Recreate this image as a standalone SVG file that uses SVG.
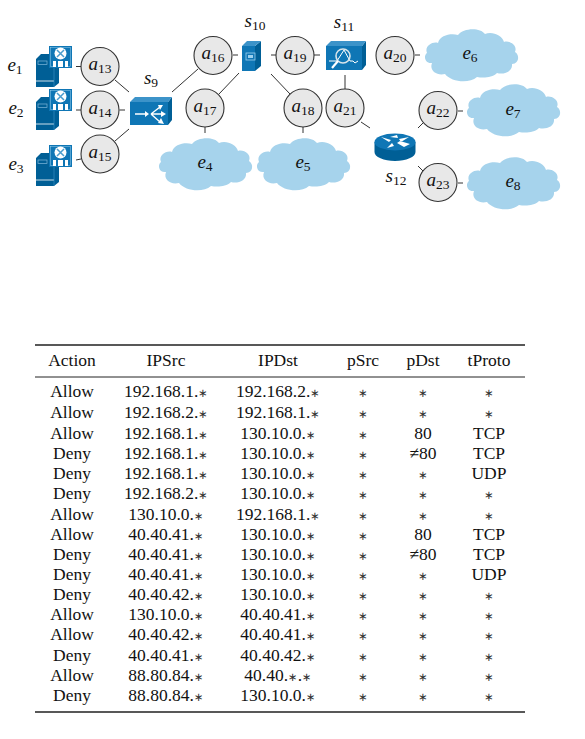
<svg xmlns="http://www.w3.org/2000/svg" width="585" height="739" viewBox="0 0 585 739">
<style>
text{font-family:"Liberation Serif","Times New Roman",serif;fill:#111}
.l{font-size:19px;font-style:italic;text-anchor:middle}
.sub{font-size:13.500px;font-style:normal}
.b{stroke:#333;stroke-width:1;fill:none}
.c{fill:#e8e8e8;stroke:#333;stroke-width:1.1}
.t{font-size:17.5px;text-anchor:middle}
.s{font-size:11.500px;font-family:"DejaVu Sans",sans-serif;fill:#333}
.r{stroke:#222;fill:none}
.cl{fill:#a6d3ec}
.f{fill:#0f76b5}.d{fill:#005f96}.w{fill:#fff}.ws{stroke:#fff;fill:none}
</style>
<defs>
<g id="cloud"><path class="cl" d="M-44,-2C-47,-9-38,-14-33,-12C-31,-20-20,-22-13,-20C-8,-27 9,-28 14,-21C21,-24 31,-20 33,-13C38,-15 47,-10 44,-3C49,0 48,9 41,9C42,17 32,20 26,18C21,23 12,23 6,22C-2,29-20,27-26,19C-34,21-42,16-39,8C-46,9-48,1-44,-2Z"/></g>
<g id="server">
<path class="d" d="M0,13L5,8H15V22H23V37L18,41H0Z"/>
<path class="ws" d="M0,35H18" stroke-width=".8"/>
<path d="M18,22V41" stroke="#3c93c9" stroke-width=".6"/>
<rect x="2" y="15" width="9" height="3.500" fill="none" stroke="#7fb8da" stroke-width=".7"/>
<rect class="f" x="13" y="0" width="23" height="22"/>
<rect x="14.500" y="1.500" width="20" height="19" fill="none" stroke="#9cd0ee" stroke-width=".5"/>
<circle class="w" cx="24.500" cy="7.500" r="6"/>
<path d="M21,4L28,11M28,4L21,11" stroke="#4a9ccd" stroke-width="1.500"/>
<rect class="w" x="17" y="15" width="15" height="6"/>
<rect class="f" x="20" y="15" width="2" height="6"/>
<rect class="f" x="27" y="15" width="2" height="6"/>
</g>
</defs>
<g id="connectors" class="b">
<path d="M76,66.500H81M76,110H81M119.500,110H125M76,160L81,159M115,80L129,92M115,141L129,129M172,92L198,69M219,94L239,73M233,55H238M205,127V133M271,55H276M314,55H320M376,55H378M415,55H420M271,74L290,94M303,127V133M345,75V91M361,122L370,128M423,123L418,128M458,111H463M418,166L423,171M458,183H463"/>
</g>
<g id="e1"><use href="#server" x="36" y="46"/><text class="l" x="15" y="71">e<tspan class="sub" dy="3">1</tspan></text></g>
<g id="e2"><use href="#server" x="36" y="89"/><text class="l" x="16" y="114">e<tspan class="sub" dy="3">2</tspan></text></g>
<g id="e3"><use href="#server" x="36" y="145"/><text class="l" x="16" y="170">e<tspan class="sub" dy="3">3</tspan></text></g>
<g id="e4"><use href="#cloud" x="205" y="164"/><text class="l" x="205" y="168">e<tspan class="sub" dy="3">4</tspan></text></g>
<g id="e5"><use href="#cloud" x="303" y="164"/><text class="l" x="303" y="168">e<tspan class="sub" dy="3">5</tspan></text></g>
<g id="e6"><use href="#cloud" x="471" y="55"/><text class="l" x="470" y="59">e<tspan class="sub" dy="3">6</tspan></text></g>
<g id="e7"><use href="#cloud" x="513" y="110"/><text class="l" x="513" y="115">e<tspan class="sub" dy="3">7</tspan></text></g>
<g id="e8"><use href="#cloud" x="513" y="183"/><text class="l" x="513" y="187">e<tspan class="sub" dy="3">8</tspan></text></g>
<g id="s9">
<path class="d" d="M168,125V102L172,97V120Z"/>
<path fill="#3c93c9" d="M130,102L135,97H172L168,102Z"/>
<rect class="f" x="130" y="102" width="38" height="23"/>
<path class="ws" d="M135,114H146M151,114H164M151,114L160,107M151,114L160,122" stroke-width="1.400"/>
<path class="w" d="M145,111L149,114L145,117ZM158,105L163,105L160,110ZM158,123L164,124L161,118ZM161,111L166,114L161,117Z"/>
<text class="l" x="151" y="84">s<tspan class="sub" dy="3">9</tspan></text>
</g>
<g id="s10">
<path class="d" d="M255,71V46L261,41V66Z"/>
<path fill="#3c93c9" d="M242,46L247,41H261L255,46Z"/>
<rect class="f" x="242" y="46" width="13" height="25"/>
<rect x="246" y="53" width="9" height="7" fill="none" stroke="#9cd0ee" stroke-width=".8"/>
<rect x="248" y="55" width="5" height="3" fill="#9cd0ee"/>
<text class="l" x="255" y="27">s<tspan class="sub" dy="3">10</tspan></text>
</g>
<g id="s11">
<path class="d" d="M362,70V46L366,41V65Z"/>
<path fill="#3c93c9" d="M326,46L331,41H366L362,46Z"/>
<rect class="f" x="326" y="46" width="36" height="24"/>
<path class="ws" d="M329,61H337L344,50L350,61H353L355,63L358,61" stroke-width="1"/>
<circle cx="343" cy="56" r="7" fill="none" stroke="#d8e4ea" stroke-width="1.600"/>
<path d="M338,61L332,68" stroke="#fff" stroke-width="2.200"/>
<text class="l" x="344" y="28">s<tspan class="sub" dy="3">11</tspan></text>
</g>
<g id="s12">
<path class="d" d="M374.500,142V152A20.500,9 0 0 0 415.500,152V142Z"/>
<ellipse class="f" cx="395" cy="142" rx="20.500" ry="8.500"/>
<path class="w" d="M381,137L391,140L389,142ZM409,137L399,139L401,142ZM387,148L392,143L394,146ZM404,147L397,143L400,141L410,144ZM390,137L397,135L398,138Z"/>
<text class="l" x="396" y="182">s<tspan class="sub" dy="3">12</tspan></text>
</g>
<g id="a13"><circle class="c" cx="100" cy="66.500" r="19"/><text class="l" x="100" y="70">a<tspan class="sub" dy="3">13</tspan></text></g>
<g id="a14"><circle class="c" cx="100" cy="110" r="19"/><text class="l" x="100" y="114">a<tspan class="sub" dy="3">14</tspan></text></g>
<g id="a15"><circle class="c" cx="100" cy="154" r="19"/><text class="l" x="100" y="158">a<tspan class="sub" dy="3">15</tspan></text></g>
<g id="a16"><circle class="c" cx="213" cy="55.500" r="19"/><text class="l" x="213" y="59">a<tspan class="sub" dy="3">16</tspan></text></g>
<g id="a17"><circle class="c" cx="205" cy="108" r="19"/><text class="l" x="205" y="112">a<tspan class="sub" dy="3">17</tspan></text></g>
<g id="a18"><circle class="c" cx="303" cy="108" r="19"/><text class="l" x="303" y="112">a<tspan class="sub" dy="3">18</tspan></text></g>
<g id="a19"><circle class="c" cx="295" cy="55.500" r="19"/><text class="l" x="295" y="59">a<tspan class="sub" dy="3">19</tspan></text></g>
<g id="a20"><circle class="c" cx="395" cy="55.500" r="19"/><text class="l" x="395" y="59">a<tspan class="sub" dy="3">20</tspan></text></g>
<g id="a21"><circle class="c" cx="345" cy="108" r="19"/><text class="l" x="345" y="112">a<tspan class="sub" dy="3">21</tspan></text></g>
<g id="a22"><circle class="c" cx="438" cy="110.500" r="19"/><text class="l" x="438" y="114">a<tspan class="sub" dy="3">22</tspan></text></g>
<g id="a23"><circle class="c" cx="438" cy="182.500" r="19"/><text class="l" x="438" y="186">a<tspan class="sub" dy="3">23</tspan></text></g>
<g id="table">
<path class="r" stroke-width="1.600" d="M35,345H525M35,712H525"/>
<path class="r" stroke-width="1" d="M35,377H525"/>
<text class="t" x="72" y="366">Action</text><text class="t" x="166" y="366">IPSrc</text><text class="t" x="278" y="366">IPDst</text><text class="t" x="363" y="366">pSrc</text><text class="t" x="423" y="366">pDst</text><text class="t" x="489" y="366">tProto</text>
<text class="t" x="72" y="397">Allow</text><text class="t" x="166" y="397">192.168.1.<tspan class="s">∗</tspan></text><text class="t" x="278" y="397">192.168.2.<tspan class="s">∗</tspan></text><text class="t s" x="363" y="397">∗</text><text class="t s" x="423" y="397">∗</text><text class="t s" x="489" y="397">∗</text>
<text class="t" x="72" y="418">Allow</text><text class="t" x="166" y="418">192.168.2.<tspan class="s">∗</tspan></text><text class="t" x="278" y="418">192.168.1.<tspan class="s">∗</tspan></text><text class="t s" x="363" y="418">∗</text><text class="t s" x="423" y="418">∗</text><text class="t s" x="489" y="418">∗</text>
<text class="t" x="72" y="439">Allow</text><text class="t" x="166" y="439">192.168.1.<tspan class="s">∗</tspan></text><text class="t" x="278" y="439">130.10.0.<tspan class="s">∗</tspan></text><text class="t s" x="363" y="439">∗</text><text class="t" x="423" y="439">80</text><text class="t" x="489" y="439">TCP</text>
<text class="t" x="72" y="459">Deny</text><text class="t" x="166" y="459">192.168.1.<tspan class="s">∗</tspan></text><text class="t" x="278" y="459">130.10.0.<tspan class="s">∗</tspan></text><text class="t s" x="363" y="459">∗</text><text class="t" x="423" y="459">≠80</text><text class="t" x="489" y="459">TCP</text>
<text class="t" x="72" y="479">Deny</text><text class="t" x="166" y="479">192.168.1.<tspan class="s">∗</tspan></text><text class="t" x="278" y="479">130.10.0.<tspan class="s">∗</tspan></text><text class="t s" x="363" y="479">∗</text><text class="t s" x="423" y="479">∗</text><text class="t" x="489" y="479">UDP</text>
<text class="t" x="72" y="499">Deny</text><text class="t" x="166" y="499">192.168.2.<tspan class="s">∗</tspan></text><text class="t" x="278" y="499">130.10.0.<tspan class="s">∗</tspan></text><text class="t s" x="363" y="499">∗</text><text class="t s" x="423" y="499">∗</text><text class="t s" x="489" y="499">∗</text>
<text class="t" x="72" y="520">Allow</text><text class="t" x="166" y="520">130.10.0.<tspan class="s">∗</tspan></text><text class="t" x="278" y="520">192.168.1.<tspan class="s">∗</tspan></text><text class="t s" x="363" y="520">∗</text><text class="t s" x="423" y="520">∗</text><text class="t s" x="489" y="520">∗</text>
<text class="t" x="72" y="540">Allow</text><text class="t" x="166" y="540">40.40.41.<tspan class="s">∗</tspan></text><text class="t" x="278" y="540">130.10.0.<tspan class="s">∗</tspan></text><text class="t s" x="363" y="540">∗</text><text class="t" x="423" y="540">80</text><text class="t" x="489" y="540">TCP</text>
<text class="t" x="72" y="560">Deny</text><text class="t" x="166" y="560">40.40.41.<tspan class="s">∗</tspan></text><text class="t" x="278" y="560">130.10.0.<tspan class="s">∗</tspan></text><text class="t s" x="363" y="560">∗</text><text class="t" x="423" y="560">≠80</text><text class="t" x="489" y="560">TCP</text>
<text class="t" x="72" y="580">Deny</text><text class="t" x="166" y="580">40.40.41.<tspan class="s">∗</tspan></text><text class="t" x="278" y="580">130.10.0.<tspan class="s">∗</tspan></text><text class="t s" x="363" y="580">∗</text><text class="t s" x="423" y="580">∗</text><text class="t" x="489" y="580">UDP</text>
<text class="t" x="72" y="600">Deny</text><text class="t" x="166" y="600">40.40.42.<tspan class="s">∗</tspan></text><text class="t" x="278" y="600">130.10.0.<tspan class="s">∗</tspan></text><text class="t s" x="363" y="600">∗</text><text class="t s" x="423" y="600">∗</text><text class="t s" x="489" y="600">∗</text>
<text class="t" x="72" y="620">Allow</text><text class="t" x="166" y="620">130.10.0.<tspan class="s">∗</tspan></text><text class="t" x="278" y="620">40.40.41.<tspan class="s">∗</tspan></text><text class="t s" x="363" y="620">∗</text><text class="t s" x="423" y="620">∗</text><text class="t s" x="489" y="620">∗</text>
<text class="t" x="72" y="640">Allow</text><text class="t" x="166" y="640">40.40.42.<tspan class="s">∗</tspan></text><text class="t" x="278" y="640">40.40.41.<tspan class="s">∗</tspan></text><text class="t s" x="363" y="640">∗</text><text class="t s" x="423" y="640">∗</text><text class="t s" x="489" y="640">∗</text>
<text class="t" x="72" y="661">Deny</text><text class="t" x="166" y="661">40.40.41.<tspan class="s">∗</tspan></text><text class="t" x="278" y="661">40.40.42.<tspan class="s">∗</tspan></text><text class="t s" x="363" y="661">∗</text><text class="t s" x="423" y="661">∗</text><text class="t s" x="489" y="661">∗</text>
<text class="t" x="72" y="681">Allow</text><text class="t" x="166" y="681">88.80.84.<tspan class="s">∗</tspan></text><text class="t" x="278" y="681">40.40.<tspan class="s">∗</tspan>.<tspan class="s">∗</tspan></text><text class="t s" x="363" y="681">∗</text><text class="t s" x="423" y="681">∗</text><text class="t s" x="489" y="681">∗</text>
<text class="t" x="72" y="701">Deny</text><text class="t" x="166" y="701">88.80.84.<tspan class="s">∗</tspan></text><text class="t" x="278" y="701">130.10.0.<tspan class="s">∗</tspan></text><text class="t s" x="363" y="701">∗</text><text class="t s" x="423" y="701">∗</text><text class="t s" x="489" y="701">∗</text>
</g>
</svg>
